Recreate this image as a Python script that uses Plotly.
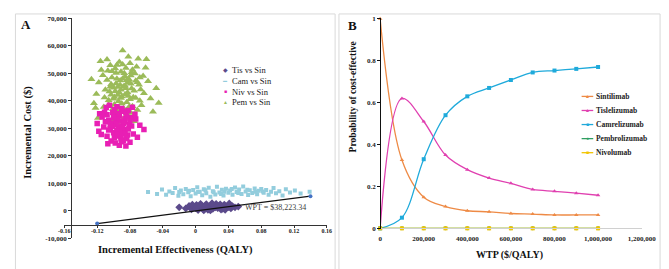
import plotly.graph_objects as go

W, H = 669, 269
SERIF = "Liberation Serif, Times New Roman, serif"

# ---------------- Panel A: cost-effectiveness plane (cost in thousand $) ----------------
tis_x = [-0.020, -0.012, -0.008, -0.005, -0.002, 0.001, 0.003, 0.005, 0.007, 0.009, 0.011, 0.013,
         0.015, 0.017, 0.019, 0.021, 0.023, 0.025, 0.027, 0.029, 0.031, 0.033, 0.035, 0.037,
         0.039, 0.041, 0.043, 0.045, 0.048, 0.052, 0.000, 0.006, 0.012, 0.018, 0.024, 0.030,
         0.036, 0.040, -0.004, 0.020, 0.014, 0.026, 0.033, 0.010, 0.002]
tis_y_k = [1.3, 0.9, 1.8, 0.6, 1.4, 2.2, 0.3, 1.1, 1.9, 0.7, 1.5, 2.5,
           0.4, 1.2, 2.0, 0.8, 1.6, 2.6, 1.0, 1.9, 0.5, 1.4, 2.3, 1.1,
           1.8, 2.7, 0.9, 1.7, 1.3, 1.6, 1.0, 2.6, 1.8, 0.2, 1.3, 2.4,
           0.4, 1.4, 2.3, 2.8, 1.0, 1.7, 0.8, 0.2, 1.7]

cam_x = [-0.058, -0.047, -0.041, -0.036, -0.032, -0.028, -0.025, -0.021, -0.018, -0.015, -0.012,
         -0.009, -0.006, -0.003, 0.000, 0.002, 0.005, 0.008, 0.010, 0.013, 0.016, 0.018, 0.021,
         0.024, 0.026, 0.029, 0.032, 0.034, 0.037, 0.040, 0.042, 0.045, 0.048, 0.050, 0.053,
         0.056, 0.058, 0.061, 0.064, 0.066, 0.069, 0.072, 0.075, 0.077, 0.080, 0.083, 0.086,
         0.089, 0.092, 0.095, 0.098, 0.102, 0.106, 0.110, 0.115, 0.121, 0.128, 0.139,
         0.003, 0.012, 0.022, 0.031, 0.044, 0.052, 0.063, 0.073, 0.082, -0.020, -0.008, 0.035]
cam_y_k = [6.9, 6.2, 7.8, 5.9, 7.1, 6.5, 8.3, 5.5, 7.4, 6.1, 8.0,
           6.8, 5.3, 7.6, 6.3, 8.6, 7.0, 5.7, 7.9, 6.4, 8.4, 5.2, 7.2,
           6.0, 8.8, 6.7, 7.7, 5.6, 8.1, 6.6, 7.4, 5.9, 8.5, 6.9, 7.8,
           6.2, 8.9, 7.1, 5.8, 7.5, 6.5, 8.2, 6.1, 7.3, 8.0, 6.6, 7.6,
           5.9, 7.0, 8.3, 6.4, 7.2, 5.6, 7.9, 6.7, 7.4, 6.3, 7.0,
           6.9, 7.5, 6.8, 6.2, 8.0, 6.5, 7.7, 7.0, 7.1, 6.9, 7.3, 7.0]

niv_x = [-0.094, -0.100, -0.088, -0.106, -0.083, -0.097, -0.112, -0.078, -0.091, -0.103,
         -0.117, -0.085, -0.109, -0.096, -0.073, -0.120, -0.089, -0.099, -0.080, -0.093,
         -0.108, -0.086, -0.076, -0.114, -0.101, -0.092, -0.082, -0.068, -0.104, -0.095,
         -0.087, -0.110, -0.079, -0.098, -0.071, -0.118, -0.090, -0.105, -0.084, -0.096,
         -0.102, -0.074, -0.063, -0.115, -0.093, -0.081, -0.107, -0.088, -0.099, -0.077,
         -0.111, -0.091, -0.085, -0.097,
         -0.093, -0.097, -0.089, -0.101, -0.086, -0.095, -0.104, -0.082, -0.091, -0.099,
         -0.087, -0.106, -0.080, -0.094, -0.090, -0.100, -0.084, -0.108, -0.096, -0.088]
niv_y_k = [30.2, 28.4, 31.9, 33.0, 27.6, 34.8, 30.5, 30.9, 26.1, 25.4,
           35.3, 35.9, 37.6, 37.9, 33.4, 31.8, 28.8, 31.3, 25.0, 23.9,
           27.1, 33.6, 28.0, 34.1, 35.8, 32.7, 36.5, 31.1, 29.9, 27.2,
           29.5, 32.4, 33.9, 24.7, 26.8, 29.0, 37.2, 38.4, 26.3, 29.1,
           32.0, 35.1, 29.6, 27.8, 34.6, 31.5, 24.4, 25.6, 36.8, 37.7,
           35.9, 30.8, 23.6, 33.3,
           29.0, 31.6, 30.4, 30.7, 28.2, 33.8, 31.5, 29.8, 27.0, 26.6,
           32.3, 29.4, 32.8, 35.4, 25.1, 34.0, 34.5, 35.0, 28.0, 36.2]

pem_x = [-0.088, -0.095, -0.081, -0.102, -0.076, -0.091, -0.110, -0.069, -0.099, -0.084,
         -0.115, -0.072, -0.093, -0.106, -0.079, -0.063, -0.118, -0.087, -0.097, -0.083,
         -0.074, -0.104, -0.112, -0.066, -0.090, -0.100, -0.078, -0.085, -0.121, -0.058,
         -0.095, -0.108, -0.070, -0.082, -0.089, -0.124, -0.055, -0.061, -0.101, -0.075,
         -0.092, -0.086, -0.097, -0.080, -0.113, -0.067, -0.105, -0.094, -0.077, -0.116,
         -0.048, -0.127, -0.064, -0.071, -0.109, -0.088, -0.099, -0.083, -0.073, -0.103,
         -0.091, -0.060, -0.119, -0.052, -0.096, -0.080, -0.086, -0.107, -0.068, -0.094,
         -0.045, -0.122, -0.078, -0.089, -0.101,
         -0.098, -0.092, -0.085, -0.079, -0.104, -0.090, -0.082, -0.075, -0.096, -0.087,
         -0.108, -0.100, -0.071, -0.093, -0.084, -0.102, -0.077, -0.089, -0.111, -0.068,
         -0.094, -0.081, -0.106, -0.073, -0.098, -0.086, -0.091, -0.079, -0.103, -0.095]
pem_y_k = [45.2, 42.1, 47.8, 48.5, 41.3, 50.6, 44.0, 45.9, 38.7, 39.5,
           51.2, 52.4, 54.1, 40.2, 35.6, 42.8, 46.7, 33.9, 46.3, 43.0,
           49.9, 52.9, 37.8, 38.4, 41.6, 44.8, 44.5, 51.9, 42.5, 47.1,
           36.1, 55.0, 55.3, 56.0, 58.3, 39.1, 40.9, 52.0, 33.2, 32.6,
           47.4, 48.9, 50.1, 40.6, 49.3, 44.1, 43.4, 39.9, 38.0, 54.4,
           44.6, 47.9, 49.0, 36.7, 35.0, 37.3, 41.4, 46.6, 47.3, 46.0,
           44.0, 55.1, 33.8, 36.0, 53.0, 53.7, 42.3, 50.9, 40.0, 31.5,
           39.2, 37.4, 50.4, 48.0, 37.0,
           43.5, 45.8, 44.6, 46.2, 45.1, 39.0, 41.8, 43.7, 48.0, 50.0,
           47.6, 40.8, 46.8, 43.0, 47.5, 50.8, 51.3, 53.2, 41.2, 48.5,
           37.8, 37.9, 38.6, 41.0, 51.8, 45.5, 41.0, 49.2, 42.2, 45.0]

wtp_line_x = [-0.12, 0.14]
wtp_line_y = [-4586.8, 5351.3]
wtp_label = "WPT = $38,223.34"

a_names = ["Tis vs Sin", "Cam vs Sin", "Niv vs Sin", "Pem vs Sin"]
a_colors = ["#5B4A8B", "#93CDDD", "#E81FB4", "#9BBB59"]

a_xticks = [-0.16, -0.12, -0.08, -0.04, 0, 0.04, 0.08, 0.12, 0.16]
a_xtext = ["-0.16", "-0.12", "-0.08", "-0.04", "0", "0.04", "0.08", "0.12", "0.16"]
a_yticks = [-10000, 0, 10000, 20000, 30000, 40000, 50000, 60000, 70000]
a_ytext = ["-10,000", "0", "10,000", "20,000", "30,000", "40,000", "50,000", "60,000", "70,000"]

# ---------------- Panel B: acceptability curves ----------------
wtp = [0, 100000, 200000, 300000, 400000, 500000, 600000, 700000, 800000, 900000, 1000000]
sintilimab = [1.0, 0.326, 0.149, 0.104, 0.084, 0.079, 0.071, 0.068, 0.064, 0.064, 0.064]
tislelizumab = [0.0, 0.62, 0.51, 0.35, 0.28, 0.24, 0.215, 0.186, 0.177, 0.168, 0.158]
camrelizumab = [0.0, 0.051, 0.33, 0.54, 0.63, 0.67, 0.708, 0.744, 0.753, 0.761, 0.77]
pembrolizumab = [0, 0, 0, 0, 0, 0, 0, 0, 0, 0, 0]
nivolumab = [0, 0, 0, 0, 0, 0, 0, 0, 0, 0, 0]

b_names = ["Sintilimab", "Tislelizumab", "Camrelizumab", "Pembrolizumab", "Nivolumab"]
b_colors = ["#EE8A45", "#E040B0", "#1FAADB", "#2E9E62", "#F2C500"]
b_symbols = ["triangle-up", "triangle-up", "square", "circle", "square"]
b_glyphs = ["▲", "▲", "■", "●", "■"]
b_series = [sintilimab, tislelizumab, camrelizumab, pembrolizumab, nivolumab]

b_xticks = [0, 200000, 400000, 600000, 800000, 1000000, 1200000]
b_xtext = ["0", "200,000", "400,000", "600,000", "800,000", "1,000,000", "1,200,000"]
b_yticks = [0, 0.2, 0.4, 0.6, 0.8, 1]
b_ytext = ["0", "0.2", "0.4", "0.6", "0.8", "1"]


def px(x):
    return x / W


def py(y):
    return 1 - y / H


fig = go.Figure()

# Panel A traces
fig.add_trace(go.Scatter(x=cam_x, y=[v * 1000 for v in cam_y_k], mode="markers", name=a_names[1],
                         marker=dict(symbol="square", size=4, color=a_colors[1]),
                         xaxis="x", yaxis="y", showlegend=False))
fig.add_trace(go.Scatter(x=tis_x, y=[v * 1000 for v in tis_y_k], mode="markers", name=a_names[0],
                         marker=dict(symbol="diamond", size=6, color=a_colors[0]),
                         xaxis="x", yaxis="y", showlegend=False))
fig.add_trace(go.Scatter(x=pem_x, y=[v * 1000 for v in pem_y_k], mode="markers", name=a_names[3],
                         marker=dict(symbol="triangle-up", size=7, color=a_colors[3]),
                         xaxis="x", yaxis="y", showlegend=False))
fig.add_trace(go.Scatter(x=niv_x, y=[v * 1000 for v in niv_y_k], mode="markers", name=a_names[2],
                         marker=dict(symbol="square", size=5.5, color=a_colors[2]),
                         xaxis="x", yaxis="y", showlegend=False))
fig.add_trace(go.Scatter(x=wtp_line_x, y=wtp_line_y, mode="lines+markers", name="WTP",
                         line=dict(color="#111111", width=1.2),
                         marker=dict(size=4, color="#4472C4"),
                         xaxis="x", yaxis="y", showlegend=False, cliponaxis=False))

# Panel B traces
for name, col, sym, ser in zip(b_names, b_colors, b_symbols, b_series):
    fig.add_trace(go.Scatter(x=wtp, y=ser, mode="lines+markers", name=name,
                             line=dict(color=col, width=1.3, shape="spline"),
                             marker=dict(symbol=sym, size=4, color=col),
                             xaxis="x2", yaxis="y2", showlegend=False, cliponaxis=False))

tickfont_a_x = dict(family=SERIF, size=6, color="#1a1a1a", weight="bold")
tickfont_a_y = dict(family=SERIF, size=7, color="#1a1a1a", weight="bold")
tickfont_b = dict(family=SERIF, size=7, color="#1a1a1a", weight="bold")

fig.update_layout(
    width=W, height=H,
    margin=dict(l=0, r=0, t=0, b=0),
    paper_bgcolor="white", plot_bgcolor="rgba(0,0,0,0)",
    xaxis=dict(domain=[px(52), px(323)], range=[-0.16, 0.16], anchor="free", position=py(219.2),
               tickvals=a_xticks, ticktext=a_xtext, tickfont=tickfont_a_x,
               showline=True, linecolor="#333333", linewidth=1, ticks="outside", ticklen=2,
               ticklabelstandoff=-2,
               tickcolor="#333333", showgrid=False, zeroline=False),
    yaxis=dict(domain=[py(233.4), py(6.5)], range=[-10000, 70000], anchor="free", position=px(59),
               tickvals=a_yticks, ticktext=a_ytext, tickfont=tickfont_a_y,
               showline=True, linecolor="#333333", linewidth=1, ticks="outside", ticklen=3,
               tickcolor="#333333", showgrid=False, zeroline=False),
    xaxis2=dict(domain=[px(378), px(648)], range=[0, 1200000], anchor="free", position=py(223),
                tickvals=b_xticks, ticktext=b_xtext, tickfont=tickfont_b,
                showline=True, linecolor="#D0D0D0", linewidth=1, ticks="outside", ticklen=3,
                tickcolor="rgba(0,0,0,0)", showgrid=False, zeroline=False),
    yaxis2=dict(domain=[py(224.08), py(5.92)], range=[-0.005, 1.005], anchor="free", position=px(378),
                tickvals=b_yticks, ticktext=b_ytext, tickfont=tickfont_b,
                showline=True, linecolor="#111111", linewidth=1, ticks="outside", ticklen=3,
                tickcolor="#111111", showgrid=False, zeroline=False),
)

shapes = [
    dict(type="rect", xref="paper", yref="paper", x0=px(1.5), x1=px(331.5), y0=py(266), y1=py(2),
         line=dict(color="#D9D9D9", width=1)),
    dict(type="rect", xref="paper", yref="paper", x0=px(335.5), x1=px(667), y0=py(266), y1=py(2),
         line=dict(color="#D9D9D9", width=1)),
]

ann = []


def text(x, y, s, size, bold=False, angle=0, xanchor="center", color="#111111"):
    ann.append(dict(x=px(x), y=py(y), xref="paper", yref="paper", text=s, showarrow=False,
                    textangle=angle, xanchor=xanchor, yanchor="middle",
                    font=dict(family=SERIF, size=size, color=color,
                              weight="bold" if bold else "normal")))


text(12, 13, "A", 13, bold=True)
text(349, 14, "B", 13, bold=True)
text(15, 124, "Incremental Cost ($)", 10.5, bold=True, angle=-90)
text(167, 245, "Incremental Effectiveness (QALY)", 10.5, bold=True)
text(350, 88, "Probability of cost-effective", 9.5, bold=True, angle=-90)
text(512, 250, "WTP ($/QALY)", 10, bold=True)
text(236, 202, wtp_label, 8, xanchor="left", color="#404040")

# Legend A (compact custom legend)
a_glyphs = ["◆", "▬", "■", "▲"]
a_gsize = [6, 4, 5, 5]
for i, (nm, col, g, gs) in enumerate(zip(a_names, a_colors, a_glyphs, a_gsize)):
    yy = 60 + 11 * i
    text(218, yy, g, gs, color=col)
    text(223, yy, nm, 8.5, xanchor="left", color="#222222")

# Legend B (compact custom legend)
for i, (nm, col, g) in enumerate(zip(b_names, b_colors, b_glyphs)):
    yy = 87 + 14.5 * i
    shapes.append(dict(type="line", xref="paper", yref="paper", x0=px(586), x1=px(598),
                       y0=py(yy), y1=py(yy), line=dict(color=col, width=1.3)))
    text(592, yy, g, 5, color=col)
    text(599, yy, nm, 7.5, bold=True, xanchor="left", color="#222222")

fig.update_layout(shapes=shapes, annotations=ann)

fig.write_html("out.html")
